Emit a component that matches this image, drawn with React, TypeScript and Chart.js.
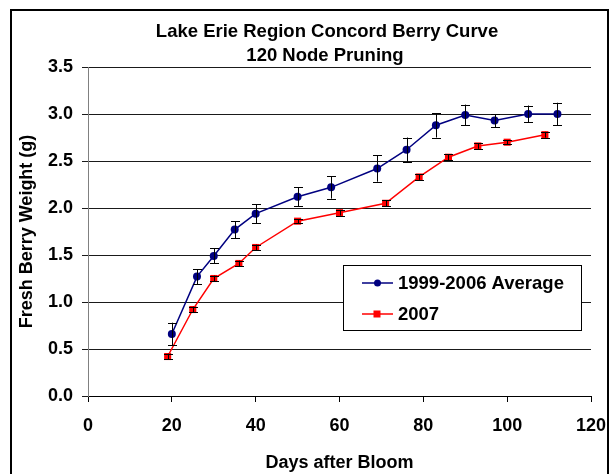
import React, { useEffect, useRef } from "react";
import { Chart, registerables } from "chart.js";

Chart.register(...registerables);

const chartTitle = ["Lake Erie Region Concord Berry Curve", "120 Node Pruning"];
const xTitle = "Days after Bloom";
const yTitle = "Fresh Berry Weight (g)";
const seriesNames = ["1999-2006 Average", "2007"];

const daysAvg = [20, 26, 30, 35, 40, 50, 58, 69, 76, 83, 90, 97, 105, 112];
const weightAvg = [0.66, 1.27, 1.49, 1.77, 1.94, 2.12, 2.22, 2.42, 2.62, 2.88, 2.99, 2.93, 3.0, 3.0];
const errAvg = [0.12, 0.08, 0.08, 0.09, 0.1, 0.1, 0.12, 0.14, 0.13, 0.13, 0.11, 0.07, 0.09, 0.12];

const days2007 = [19, 25, 30, 36, 40, 50, 60, 71, 79, 86, 93, 100, 109];
const weight2007 = [0.42, 0.92, 1.25, 1.41, 1.58, 1.86, 1.95, 2.05, 2.33, 2.54, 2.66, 2.7, 2.78];
const err2007 = [0.03, 0.03, 0.03, 0.03, 0.03, 0.02, 0.03, 0.03, 0.03, 0.03, 0.03, 0.02, 0.03];

const FONT = "'Liberation Sans', Arial, sans-serif";
const BLUE = "#000080";
const RED = "#ff0000";

export default function App() {
  const ref = useRef<HTMLCanvasElement | null>(null);

  useEffect(() => {
    if (!ref.current) return;
    const errors = [errAvg, err2007];

    const framePlugin = {
      id: "frame",
      beforeDraw(chart: any) {
        const ctx = chart.ctx;
        ctx.save();
        ctx.fillStyle = "#fff";
        ctx.fillRect(0, 0, chart.width, chart.height);
        ctx.strokeStyle = "#000";
        ctx.lineWidth = 2;
        ctx.strokeRect(11, 10, 597, 500);
        ctx.restore();
      },
      afterDraw(chart: any) {
        const ctx = chart.ctx;
        ctx.save();
        ctx.fillStyle = "#000";
        ctx.font = `bold 18.5px ${FONT}`;
        ctx.textAlign = "center";
        ctx.textBaseline = "middle";
        ctx.fillText(chartTitle[0], 327, 32);
        ctx.fillText(chartTitle[1], 325, 56);

        // legend
        const bx = 343, by = 265, bw = 238, bh = 65;
        ctx.fillStyle = "#fff";
        ctx.fillRect(bx, by, bw, bh);
        ctx.strokeStyle = "#000";
        ctx.lineWidth = 1;
        ctx.strokeRect(bx + 0.5, by + 0.5, bw, bh);
        const rows = [283, 314];
        chart.data.datasets.forEach((ds: any, i: number) => {
          const y = rows[i];
          ctx.strokeStyle = ds.borderColor;
          ctx.lineWidth = 1.5;
          ctx.beginPath();
          ctx.moveTo(362, y);
          ctx.lineTo(393, y);
          ctx.stroke();
          ctx.fillStyle = ds.backgroundColor;
          if (ds.pointStyle === "rect") {
            ctx.fillRect(377 - 3.5, y - 3.5, 7, 7);
          } else {
            ctx.beginPath();
            ctx.arc(377.5, y, 3.5, 0, Math.PI * 2);
            ctx.fill();
          }
          ctx.fillStyle = "#000";
          ctx.textAlign = "left";
          ctx.font = `bold 18.5px ${FONT}`;
          ctx.fillText(ds.label, 398, y + 1);
        });
        ctx.restore();
      },
      afterDatasetsDraw(chart: any) {
        const ctx = chart.ctx;
        const ys = chart.scales.y;
        const xs = chart.scales.x;
        ctx.save();
        ctx.strokeStyle = "#000";
        ctx.lineWidth = 1;
        chart.data.datasets.forEach((ds: any, i: number) => {
          ds.data.forEach((pt: any, j: number) => {
            const e = errors[i][j];
            const x = Math.round(xs.getPixelForValue(pt.x)) + 0.5;
            const y1 = ys.getPixelForValue(pt.y + e);
            const y2 = ys.getPixelForValue(pt.y - e);
            ctx.beginPath();
            ctx.moveTo(x, y1);
            ctx.lineTo(x, y2);
            ctx.moveTo(x - 4.5, Math.round(y1) + 0.5);
            ctx.lineTo(x + 4.5, Math.round(y1) + 0.5);
            ctx.moveTo(x - 4.5, Math.round(y2) + 0.5);
            ctx.lineTo(x + 4.5, Math.round(y2) + 0.5);
            ctx.stroke();
          });
        });
        ctx.restore();
      },
    };

    const chart = new Chart(ref.current, {
      type: "line",
      data: {
        datasets: [
          {
            label: seriesNames[0],
            data: daysAvg.map((d, i) => ({ x: d, y: weightAvg[i] })),
            borderColor: BLUE,
            backgroundColor: BLUE,
            borderWidth: 1.5,
            pointStyle: "circle",
            pointRadius: 4,
            pointBorderWidth: 0,
            tension: 0,
          },
          {
            label: seriesNames[1],
            data: days2007.map((d, i) => ({ x: d, y: weight2007[i] })),
            borderColor: RED,
            backgroundColor: RED,
            borderWidth: 1.5,
            pointStyle: "rect",
            pointRadius: 5,
            pointBorderWidth: 0,
            tension: 0,
          },
        ],
      },
      options: {
        responsive: false,
        animation: false,
        devicePixelRatio: 1,
        layout: { padding: { top: 67, right: 21, left: 0, bottom: 0 } },
        plugins: {
          legend: { display: false },
          title: { display: false },
          tooltip: { enabled: false },
        },
        scales: {
          x: {
            type: "linear",
            min: 0,
            max: 120,
            ticks: {
              stepSize: 20,
              color: "#000",
              font: { family: FONT, size: 18, weight: "bold" },
              padding: 13,
              maxRotation: 0,
            },
            grid: { drawOnChartArea: false, drawTicks: true, tickLength: 6, color: "#000" },
            border: { color: "#000", width: 1 },
            title: {
              display: true,
              text: xTitle,
              color: "#000",
              font: { family: FONT, size: 18, weight: "bold" },
              padding: { top: 5, bottom: 0 },
            },
            afterFit(scale: any) {
              scale.height = 78;
              scale.paddingRight = 0;
              scale.paddingLeft = 0;
            },
          },
          y: {
            type: "linear",
            min: 0,
            max: 3.5,
            ticks: {
              stepSize: 0.5,
              color: "#000",
              font: { family: FONT, size: 18, weight: "bold" },
              padding: 9,
              callback: (v: any) => Number(v).toFixed(1),
            },
            grid: { drawOnChartArea: true, drawTicks: true, tickLength: 6, color: "#1a1a1a" },
            border: { color: "#808080", width: 1 },
            title: {
              display: true,
              text: yTitle,
              color: "#000",
              font: { family: FONT, size: 18, weight: "bold" },
              padding: { top: 16, bottom: 0 },
            },
            afterFit(scale: any) {
              scale.width = 88;
              scale.paddingTop = 0;
              scale.paddingBottom = 0;
            },
          },
        },
      },
      plugins: [framePlugin],
    } as any);

    return () => chart.destroy();
  }, []);

  return (
    <div style={{ position: "absolute", left: 0, top: 0, width: 612, height: 474 }}>
      <canvas ref={ref} width={612} height={474} style={{ display: "block" }} />
    </div>
  );
}
